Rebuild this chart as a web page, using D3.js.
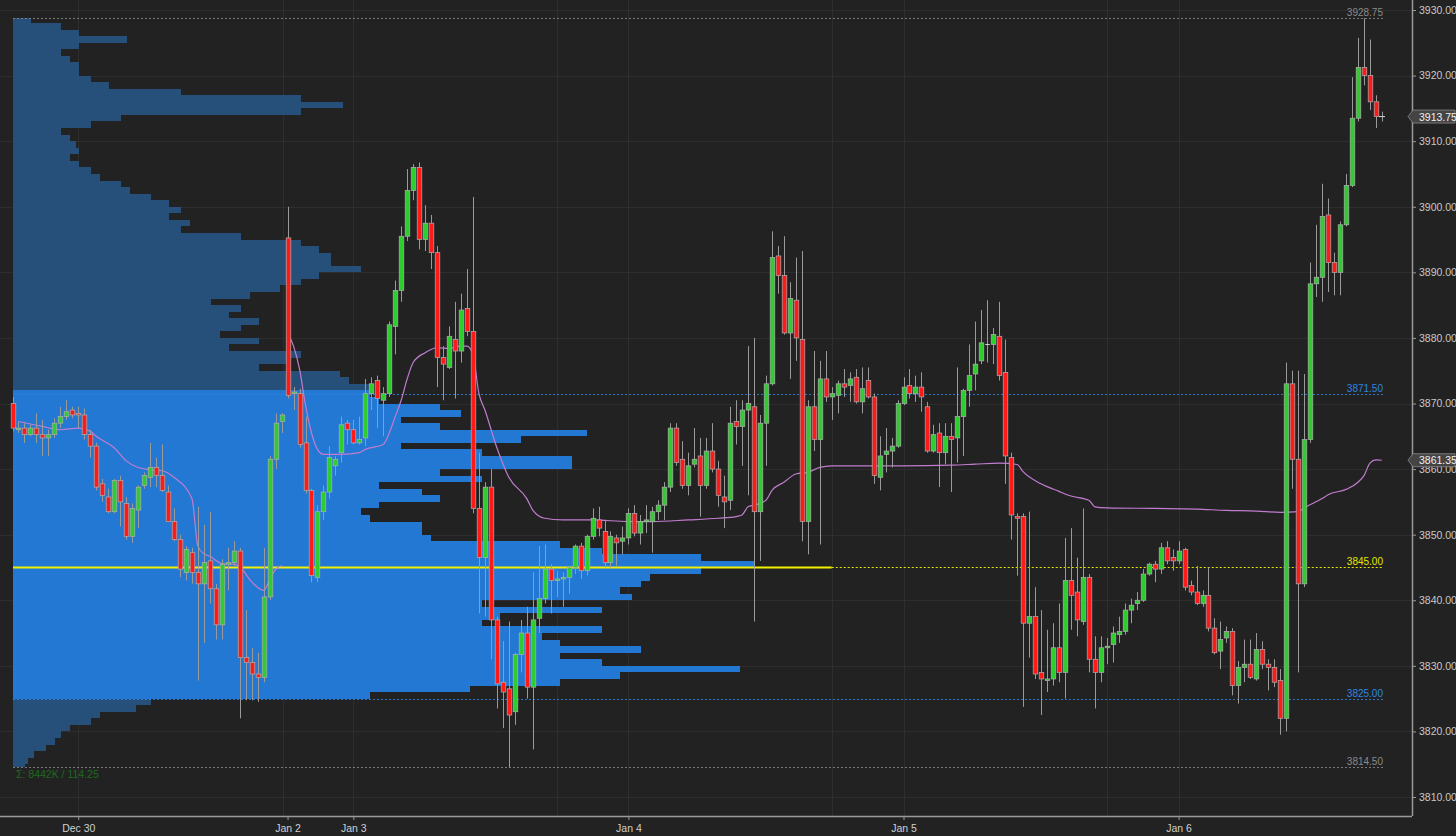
<!DOCTYPE html>
<html><head><meta charset="utf-8">
<script src="https://cdn.jsdelivr.net/npm/d3@7"></script>
<style>
html,body{margin:0;padding:0;background:#222222;overflow:hidden;}
svg{display:block;}
text{font-family:"Liberation Sans",Arial,sans-serif;}
</style></head><body>
<svg id="c" width="1456" height="836"></svg>
<script>
// ---------- DATA ----------
const opens = [3870,3866,3866.25,3865.25,3866.25,3865.25,3864.75,3865.25,3867,3868,
3869,3868.5,3868.25,3865.25,3863.5,3857.75,3855.75,3853.5,3858.25,3854.75,
3849.75,3853.75,3857.5,3858.75,3860.25,3859,3856.5,3852,3849.25,3844.25,
3847.25,3844.25,3842.5,3846,3841.75,3836.25,3845.5,3845.75,3847.5,3831.25,
3830.5,3828.75,3828.25,3840.5,3861.5,3867.25,3895.25,3871.5,3871.5,3864,
3856.75,3843.5,3853.5,3856.5,3860.5,3862.5,3867,3866,3864,3864.75,
3871.5,3873.5,3870.5,3871.5,3881.75,3887.25,3895.5,3902.5,3906,3895,
3897.5,3893,3877,3875.5,3879.75,3878,3884.5,3881,3854,3846.5,
3857.25,3837,3827.5,3826.5,3823,3831.75,3835,3826.75,3837.25,3840.25,
3844.75,3843,3843.25,3843.5,3845,3848.25,3844.5,3849.75,3852.25,3850.5,
3845.75,3849.5,3849,3849.5,3853.25,3850.25,3852,3852,3853.5,3854.5,
3857.25,3866.25,3861.5,3857.5,3860.75,3862,3857.5,3862.75,3860,3855.75,
3855.25,3867.25,3866.5,3869,3869.5,3853.5,3867,3873,3892.5,3889.5,
3880.75,3885.75,3879.75,3852,3869.5,3864.5,3873.75,3871,3871.25,3873,
3872.75,3874,3870.25,3873.5,3871,3858.75,3862.25,3862.75,3863.5,3870,
3872.75,3871.5,3872.5,3869.5,3862.75,3865.5,3862.5,3865,3864.75,3868,
3872,3874.5,3876.5,3879,3879,3880.25,3874.75,3861.75,3852.75,3852.75,
3836.5,3837.5,3829,3827.75,3828,3832.75,3829,3843,3841.25,3836.75,
3843.5,3831,3829,3832.75,3833.25,3834.75,3835.25,3838.5,3839.5,3840,
3844,3845.5,3844.75,3848,3846.5,3846,3847.75,3842.25,3841.25,3839.5,
3840.75,3835.75,3832.25,3834.25,3835.25,3827,3829.75,3830.25,3828,3832.5,
3830.25,3829.75,3827.75,3822,3873,3861.5,3842.5,3864.5,3888.25,3889.25,
3898.75,3891.5,3890,3897.25,3903.25,3913.5,3921.25,3920,3916,3913.75];
const highs = [3871,3867.25,3867,3866.75,3868.5,3867.5,3866,3867.75,3869.5,3870.5,
3869.5,3869.5,3869.25,3866,3864,3858.5,3857,3858.5,3859,3855.75,
3854.75,3857.5,3859.5,3864,3861.75,3863.75,3857.5,3854,3850,3848.25,
3848,3854.25,3851.5,3853.5,3842.5,3846.25,3848,3849,3848,3838.5,
3832.75,3832,3848,3862,3868.5,3868.5,3900,3872.5,3872.25,3868,
3857,3854.5,3857.5,3863.5,3862,3868,3867.5,3867.5,3868,3873.75,
3874,3874.25,3872.5,3882.5,3888.75,3897,3905.75,3906.5,3906.75,3900.25,
3898.75,3894,3878.75,3881.75,3885.5,3886.75,3890.5,3901.5,3862.5,3858,
3860,3837.5,3833.75,3836.75,3832,3837,3839,3844.25,3848.25,3848.5,
3845.5,3844.5,3844.25,3845.25,3848.5,3848.75,3850,3854,3854.25,3852.25,
3850.5,3850,3851.25,3854,3854.5,3853,3854.5,3854.25,3855.25,3858,
3867,3867,3864.25,3862.5,3866.25,3864.75,3864.75,3867,3861.25,3859,
3869.5,3870.5,3870.5,3878.75,3880,3868.25,3874.25,3896.25,3894,3895.5,
3888.5,3892.25,3893.25,3870.5,3878,3876.5,3878,3872.5,3873.5,3875.25,
3874.75,3875.25,3875.5,3875.5,3871.5,3865,3866.25,3864.75,3870.5,3874,
3875.25,3874.25,3874.75,3870.25,3866.75,3867,3867,3867,3875.5,3872.25,
3879,3882.5,3884.25,3885.75,3881.5,3885.5,3879.75,3862.5,3853.25,3853.25,
3853.5,3842,3838.5,3835.5,3836.5,3839.5,3849.5,3851,3846.5,3854,
3844,3834.5,3834.5,3834.25,3836,3837.5,3839.5,3840.25,3841.25,3844.75,
3845.75,3846,3848.75,3849,3847.75,3849,3848,3843,3845.25,3841.5,
3845,3837.25,3836.75,3836,3835.75,3830.75,3834,3834,3835,3833.75,
3831,3831,3829.5,3876.25,3875,3875,3874.5,3891.5,3897.25,3903.5,
3901.25,3893,3897.75,3905,3919.75,3925.75,3928.75,3925.5,3917,3914.5];
const lows = [3865.75,3865.5,3864,3865,3864,3862,3862,3864.75,3866.25,3867.5,
3867.75,3866.25,3864.5,3861.75,3856.75,3855,3853.25,3853.25,3851.25,3849.25,
3848.75,3851,3857,3857.25,3857.25,3856.5,3852,3849,3843.5,3843,
3842.5,3827.75,3833.5,3839.5,3834,3834,3841.5,3845.25,3822,3824.75,
3824.75,3824.5,3827.5,3840,3860,3865.5,3870.75,3869,3863.25,3856.25,
3842.75,3842.75,3852.25,3855.5,3859,3861,3863.75,3863.75,3863.75,3863.5,
3869,3866.25,3865,3871,3877.5,3885.5,3894.75,3901,3893.5,3893.25,
3890.5,3872.5,3870.5,3875.25,3870.75,3876.25,3880.25,3853.25,3838,3837.5,
3831,3823.5,3820.5,3814.5,3821,3829,3825,3817.25,3835,3839.5,
3838,3840.5,3839,3841,3844,3843.25,3843.75,3849.25,3849.75,3845,
3845,3845.25,3847,3848.5,3849.75,3848.5,3850.25,3847.25,3852.25,3852.25,
3856.5,3860.5,3857,3856,3860.25,3852.75,3857,3859.5,3854.25,3851,
3853.75,3863.75,3860.5,3856,3836.75,3846,3860.5,3872.75,3886.75,3880.5,
3873.75,3876.5,3849,3847,3862.75,3848.5,3870.25,3867.5,3868.5,3871,
3870.25,3870,3868.5,3870.75,3857.75,3856.75,3859.5,3860.25,3863.25,3869.75,
3870.75,3870.25,3868.75,3862.5,3862.5,3857.25,3860.75,3856.5,3861,3862,
3869.5,3872,3876,3876.25,3876,3873.5,3857.75,3849.25,3843.75,3823.75,
3831.25,3828,3822.5,3826,3827,3827.5,3825,3835.5,3834.5,3836.25,
3829,3823.5,3827.5,3830.25,3830.5,3833.5,3834.75,3836.5,3838.5,3839.75,
3843.75,3842.75,3844,3845.5,3844.5,3845.5,3841.5,3840.75,3839.25,3839,
3835.25,3831.75,3829.5,3833.5,3825.5,3824.25,3827.5,3828,3827.75,3829.5,
3826.25,3826.75,3819.5,3820,3857,3829,3842,3864,3886.25,3885.5,
3887,3886.5,3886.5,3897,3903,3913,3918.5,3914.75,3912,3913];
const closes = [3866.25,3866.25,3865.25,3866.25,3865.25,3864.75,3865.25,3867,3868,3868.75,
3868.25,3868.25,3865.25,3863.5,3857.25,3856,3853.5,3858.25,3855,3849.75,
3854,3857.25,3859,3860.25,3859,3856.75,3852,3849.25,3844.75,3847.75,
3844.25,3842.5,3845.75,3841.75,3836.25,3845.5,3845.75,3847.5,3831.25,3830.5,
3828.75,3828.25,3840.5,3861.5,3867,3868.25,3871.25,3871.75,3863.75,3856.75,
3843.75,3853.5,3856.5,3861.75,3861.5,3866.75,3866,3864,3864.5,3871.5,
3873,3870.75,3871.5,3882,3887.25,3895.5,3902.5,3906,3895,3897.5,
3893,3877,3876,3880.25,3878,3884.25,3881,3854,3846.5,3857.25,
3837,3827.25,3826,3822.5,3831.75,3835,3826.75,3837,3840.25,3844.75,
3843,3843.25,3843.5,3845,3848.25,3844.5,3849.75,3852.5,3851,3845.75,
3849.75,3848.75,3849.5,3853.25,3850.25,3852,3852.25,3853.5,3854.5,3857.25,
3866.25,3861,3857.5,3860.5,3861.5,3857.5,3862.75,3860,3856,3855,
3867,3866.5,3869,3870,3853.5,3867,3873,3892.25,3889.5,3880.75,
3886,3880,3852,3869.5,3864.5,3873.75,3871,3871.5,3873,3872.5,
3873.75,3870.25,3872.25,3871,3859,3862,3862.75,3863.5,3870,3872.5,
3871.5,3872.5,3871,3862.75,3865.25,3862.5,3865,3864.5,3868,3872,
3874.25,3876,3879.25,3879,3880.5,3874.25,3862,3853,3852.5,3836.5,
3837.5,3828.75,3828,3828,3832.75,3829,3843,3840.75,3837,3843.5,
3831,3829,3832.75,3833,3835,3835.25,3838.5,3839.25,3840,3844,
3845.5,3844.75,3848,3846,3846,3847.5,3842,3841.25,3839.5,3840.75,
3835.75,3832,3834,3835.25,3827,3829.75,3830.25,3828.25,3832.5,3830.25,
3829.75,3827.5,3822,3873,3861.5,3842.5,3864.5,3888.25,3889.25,3898.5,
3891.5,3890,3897.25,3903.25,3913.5,3921.25,3920,3916,3913.75,3913.75];

// VWAP : prior week segment and current week segment
const vwapPrevIdx = [1,5,8,11,13,14,17,19,21,23,25,27,30,31,32,33,35,37,38,40,42,43,44,45];
const vwapPrevVal = [3867.25,3866.5,3866,3866.25,3865.75,3865,3863.25,3861.25,3860.25,3859.9,3859.75,3858.75,3855.5,3848.25,3847.1,3846.7,3845.6,3845.5,3845.1,3842.8,3841.5,3843.1,3844.7,3845.3];
const vwapIdx = [46,47,48,49,50,51,52,55,58,59,62,63,64,65,66,67,69,71,73,75,76,77,78,79,81,83,86,87,89,92,97,103,107,113,118,121,122,123,124,126,127,129,131,133,135,137,149,157,161,165,168,169,172,175,177,180,181,183,191,198,203,208,212,215,216,219,220,223,225,226,227,228,229];
const vwapVal = [3880.75,3878.75,3875.25,3869.75,3865.5,3863,3862.25,3862.25,3862.5,3863,3863.75,3865.5,3868,3870.5,3873.75,3876.25,3877.75,3878.5,3878.4,3878.75,3878.75,3877.5,3871.5,3869,3863.25,3858.75,3855.5,3853.75,3852.5,3852.25,3852.25,3852,3852,3852.25,3852.5,3852.75,3853,3854.25,3854.5,3855.25,3856.75,3858,3859.25,3859.5,3860.25,3860.5,3860.5,3860.6,3860.75,3860.9,3860.7,3859.6,3857.75,3856.6,3855.9,3855.25,3854.25,3854.1,3854,3853.9,3853.7,3853.6,3853.4,3853.5,3854.1,3855.5,3856.1,3856.9,3858,3859,3860.9,3861.4,3861.35];

// Volume profile (K contracts per 1-point bin, bins start at 3814)
const profileStart = 3814;
const profileVol = [4,5,7,11,14,16,19,26,29,41,46,
119,152,182,202,242,196,182,209,182,176,196,156,162,196,156,206,202,209,212,229,247,229,196,182,139,136,136,119,116,122,142,136,122,156,142,186,186,156,129,169,191,142,129,149,142,122,119,
119,112,109,82,92,96,72,82,69,76,82,72,76,66,79,89,96,102,116,106,106,102,96,76,56,59,52,56,52,46,39,36,29,26,22,19,22,21,19,16,26,36,96,110,96,56,32,26,22,22,19,16,22,38,22,16,6];
const profileLow = 3814.5, profileHigh = 3928.75;
const valueAreaLow = 3825, valueAreaHigh = 3871.5, poc = 3845;

const levelValues = [3928.75, 3871.5, 3845, 3825, 3814.5];
const levelLabels = ["3928.75","3871.50","3845.00","3825.00","3814.50"];
const levelColors = ["#8a8a8a","#2f86e0","#e6e600","#2f86e0","#8a8a8a"];

const timeLabels = ["Dec 30","Jan 2","Jan 3","Jan 4","Jan 5","Jan 6"];
const timeLabelIdx = [11,46,57,103,149,195];
const gridIdx = [11,45.2,57,91,103,137,149,183,195];
const priceTicks = [3810,3820,3830,3840,3850,3860,3870,3880,3890,3900,3910,3920,3930];
const lastPrice = 3913.75, vwapLast = 3861.35;
const summaryText = "Σ: 8442K / 114.25";

// ---------- CHART ----------
const svg = d3.select("#c");
const W = 1456, H = 836, axisX = 1412, axisY = 816;
const x = d3.scaleLinear().domain([0, 229]).range([12.5, 1381.9]);
const y = d3.scaleLinear().domain([3810, 3930]).range([797, 10]);
const vx = d3.scaleLinear().domain([0, d3.max(profileVol)]).range([0, 742]);
const px0 = 13;

svg.append("rect").attr("width", W).attr("height", H).attr("fill", "#222222");

// grid
const grid = svg.append("g").attr("shape-rendering", "crispEdges");
grid.selectAll("line.h").data(priceTicks).join("line")
  .attr("x1", 0).attr("x2", axisX).attr("y1", d => Math.round(y(d)) + 0.5).attr("y2", d => Math.round(y(d)) + 0.5)
  .attr("stroke", "#2e2e2e").attr("stroke-width", 1);
grid.selectAll("line.v").data(gridIdx).join("line")
  .attr("y1", 0).attr("y2", axisY).attr("x1", d => Math.round(x(d)) + 0.5).attr("x2", d => Math.round(x(d)) + 0.5)
  .attr("stroke", "#2e2e2e").attr("stroke-width", 1);

// volume profile
const prof = svg.append("g").attr("shape-rendering", "crispEdges");
profileVol.forEach((v, k) => {
  const lo = Math.max(profileStart + k, profileLow);
  const hi = Math.min(profileStart + k + 1, profileHigh);
  const mid = (lo + hi) / 2;
  const inVA = mid >= valueAreaLow && mid <= valueAreaHigh;
  const yTop = Math.round(y(hi)), yBot = Math.round(y(lo));
  prof.append("rect")
    .attr("x", px0).attr("y", yTop).attr("width", Math.round(vx(v))).attr("height", yBot - yTop)
    .attr("fill", inVA ? "#2278d2" : "#264f7a");
});

// level lines
const lv = svg.append("g");
levelValues.forEach((v, k) => {
  const yy = Math.round(y(v)) + 0.5;
  if (v === poc) {
    lv.append("line").attr("x1", px0).attr("x2", x(137)).attr("y1", yy).attr("y2", yy)
      .attr("stroke", "#f0f000").attr("stroke-width", 2);
    lv.append("line").attr("x1", x(137)).attr("x2", 1383).attr("y1", yy).attr("y2", yy)
      .attr("stroke", "#e6e600").attr("stroke-width", 1).attr("stroke-dasharray", "2,2");
  } else {
    lv.append("line").attr("x1", px0).attr("x2", 1383).attr("y1", yy).attr("y2", yy)
      .attr("stroke", levelColors[k]).attr("stroke-width", 1).attr("stroke-dasharray", "2,2")
      .attr("opacity", 0.85);
  }
  lv.append("text").attr("x", 1383).attr("y", yy - 3).attr("text-anchor", "end")
    .attr("font-size", 10).attr("fill", levelColors[k]).text(levelLabels[k]);
});

// VWAP
const line = d3.line().x(d => x(d[0])).y(d => y(d[1])).curve(d3.curveMonotoneX);
svg.append("path").datum(vwapPrevIdx.map((d, k) => [d, vwapPrevVal[k]]))
  .attr("d", line).attr("fill", "none").attr("stroke", "#c27ccf").attr("stroke-width", 1.2);
svg.append("path").datum(vwapIdx.map((d, k) => [d, vwapVal[k]]))
  .attr("d", line).attr("fill", "none").attr("stroke", "#c27ccf").attr("stroke-width", 1.2);

// candles
const cg = svg.append("g");
const bw = 4.6;
opens.forEach((o, i) => {
  const c = closes[i], h = highs[i], l = lows[i];
  const cx = Math.round(x(i)) + 0.5;
  cg.append("line").attr("x1", cx).attr("x2", cx).attr("y1", y(h)).attr("y2", y(l))
    .attr("stroke", "#9a9a9a").attr("stroke-width", 1);
  const top = y(Math.max(o, c)), bot = y(Math.min(o, c));
  const col = c > o ? "#2ecc2e" : (c < o ? "#ff1a1a" : "#bdbdbd");
  if (c === o) {
    cg.append("line").attr("x1", cx - bw / 2).attr("x2", cx + bw / 2).attr("y1", top).attr("y2", top)
      .attr("stroke", "#cfcfcf").attr("stroke-width", 1);
  } else {
    cg.append("rect").attr("x", cx - bw / 2).attr("y", top).attr("width", bw)
      .attr("height", Math.max(1.2, bot - top)).attr("fill", col)
      .attr("stroke", "#b0b0b0").attr("stroke-width", 0.7);
  }
});

// summary text
svg.append("text").attr("x", 16).attr("y", y(3814.5) + 11).attr("font-size", 10.5)
  .attr("fill", "#1d6b1d").text(summaryText);

// price axis (the tick label hidden under the VWAP tag is shifted down slightly, as in the original)
const pa = svg.append("g").attr("transform", `translate(${axisX},0)`)
  .call(d3.axisRight(y).tickValues(priceTicks).tickFormat(d3.format(".2f")).tickSize(4).tickPadding(3));
pa.select(".domain").attr("stroke", "#9a9a9a").attr("stroke-width", 1.5).attr("d", `M0.5,0V${axisY}`);
pa.selectAll(".tick line").attr("stroke", "#9a9a9a");
pa.selectAll(".tick text").attr("fill", "#c8c8c8").attr("font-size", 10.5)
  .attr("font-family", "Liberation Sans, Arial, sans-serif");

// time axis
const ta = svg.append("g").attr("transform", `translate(0,${axisY})`)
  .call(d3.axisBottom(x).tickValues(timeLabelIdx).tickFormat((d, k) => timeLabels[k]).tickSize(4).tickPadding(5));
ta.select(".domain").attr("stroke", "#9a9a9a").attr("stroke-width", 1.5).attr("d", `M0,0.5H${axisX}`);
ta.selectAll(".tick line").attr("stroke", "#9a9a9a");
ta.selectAll(".tick text").attr("fill", "#cfcfcf").attr("font-size", 10.5)
  .attr("font-family", "Liberation Sans, Arial, sans-serif");

// price tags
function tag(v, label) {
  const yy = y(v);
  const g = svg.append("g");
  g.append("path").attr("d", `M${axisX - 4},${yy} L${axisX + 1},${yy - 6.5} H${W - 1} V${yy + 6.5} H${axisX + 1} Z`)
    .attr("fill", "#444444").attr("stroke", "#8a8a8a").attr("stroke-width", 0.8);
  g.append("text").attr("x", axisX + 7).attr("y", yy + 4).attr("font-size", 10.5)
    .attr("fill", "#f0f0f0").text(label);
}
tag(lastPrice, d3.format(".2f")(lastPrice));
tag(vwapLast, d3.format(".2f")(vwapLast));

// last price cross marker
const lx = x(229);
svg.append("line").attr("x1", lx - 3).attr("x2", lx + 3).attr("y1", y(lastPrice)).attr("y2", y(lastPrice))
  .attr("stroke", "#cccccc");
</script>
</body></html>
